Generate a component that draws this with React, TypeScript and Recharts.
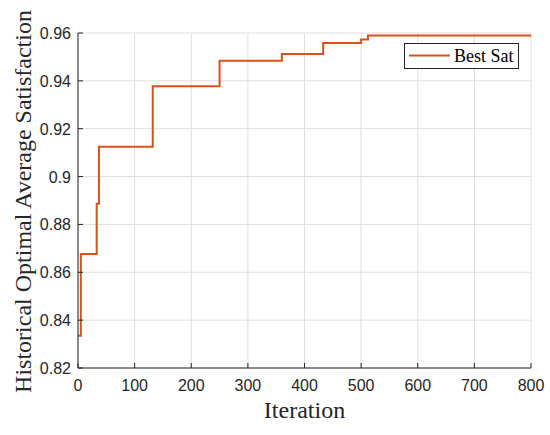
import React from "react";
import { LineChart, Line, XAxis, YAxis, CartesianGrid, Legend } from "recharts";

// iteration at which the best value changed, and the new best value
const iterations = [0, 5, 33, 37, 132, 250, 360, 433, 500, 512, 800];
const bestSat = [0.8335, 0.8676, 0.8886, 0.9125, 0.9377, 0.9484, 0.9512, 0.9558, 0.9573, 0.959, 0.959];

const xTicks = [0, 100, 200, 300, 400, 500, 600, 700, 800];
const yTicks = [0.82, 0.84, 0.86, 0.88, 0.9, 0.92, 0.94, 0.96];

const data = iterations.map((it, i) => ({ iter: it, best: bestSat[i] }));

const AXIS = "#262626";
const LINE = "#D95319";
const SANS = "'Liberation Sans', Arial, sans-serif";
const SERIF = "'Liberation Serif', 'Times New Roman', serif";

const BottomTick = (props: any) => {
  const { x, y, payload } = props;
  return (
    <g>
      <line x1={x} y1={y} x2={x} y2={y - 5} stroke={AXIS} strokeWidth={1} />
      <text x={x} y={y + 23} textAnchor="middle" fontSize={16} fontFamily={SANS} fill={AXIS}>
        {payload.value}
      </text>
    </g>
  );
};

const TopTick = (props: any) => {
  const { x, y } = props;
  return <line x1={x} y1={y} x2={x} y2={y + 5} stroke={AXIS} strokeWidth={1} />;
};

const LeftTick = (props: any) => {
  const { x, y, payload } = props;
  return (
    <g>
      <line x1={x} y1={y} x2={x + 5} y2={y} stroke={AXIS} strokeWidth={1} />
      <text x={x - 7} y={y + 6} textAnchor="end" fontSize={16} fontFamily={SANS} fill={AXIS}>
        {String(Number(payload.value.toFixed(2)))}
      </text>
    </g>
  );
};

const RightTick = (props: any) => {
  const { x, y } = props;
  return <line x1={x} y1={y} x2={x - 5} y2={y} stroke={AXIS} strokeWidth={1} />;
};

const XLabel = (props: any) => {
  const { viewBox } = props;
  return (
    <text x={viewBox.x + viewBox.width / 2} y={418} textAnchor="middle" fontSize={24} fontFamily={SERIF} fill={AXIS}>
      Iteration
    </text>
  );
};

const YLabel = (props: any) => {
  const { viewBox } = props;
  const cy = viewBox.y + viewBox.height / 2 + 1;
  return (
    <text
      x={31}
      y={cy}
      transform={`rotate(-90, 31, ${cy})`}
      textAnchor="middle"
      fontSize={24}
      fontFamily={SERIF}
      fill={AXIS}
    >
      Historical Optimal Average Satisfaction
    </text>
  );
};

const LegendBox = () => (
  <svg width={116} height={27}>
    <rect x={0.5} y={0.5} width={114} height={25} fill="#fff" stroke={AXIS} strokeWidth={1} />
    <line x1={5} y1={12.5} x2={46} y2={12.5} stroke={LINE} strokeWidth={2} />
    <text x={50} y={19} fontSize={18} fontFamily={SERIF} fill="#000">
      Best Sat
    </text>
  </svg>
);

export default function App() {
  return (
    <div style={{ position: "absolute", left: 0, top: 0, background: "#fff" }}>
      <LineChart width={550} height={435} data={data} margin={{ top: 33, right: 19, left: 0, bottom: 0 }}>
        <CartesianGrid stroke="#dfdfdf" strokeWidth={1} />
        <XAxis
          dataKey="iter"
          type="number"
          domain={[0, 800]}
          ticks={xTicks}
          height={67}
          tickSize={0}
          tickMargin={0}
          tickLine={false}
          axisLine={{ stroke: AXIS, strokeWidth: 1 }}
          tick={<BottomTick />}
          label={{ content: <XLabel /> }}
        />
        <XAxis
          xAxisId="top"
          orientation="top"
          dataKey="iter"
          type="number"
          domain={[0, 800]}
          ticks={xTicks}
          height={0}
          tickSize={0}
          tickMargin={0}
          tickLine={false}
          axisLine={{ stroke: AXIS, strokeWidth: 1 }}
          tick={<TopTick />}
        />
        <YAxis
          type="number"
          domain={[0.82, 0.96]}
          ticks={yTicks}
          width={78}
          tickSize={0}
          tickMargin={0}
          tickLine={false}
          axisLine={{ stroke: AXIS, strokeWidth: 1 }}
          tick={<LeftTick />}
          label={{ content: <YLabel /> }}
        />
        <YAxis
          yAxisId="right"
          orientation="right"
          type="number"
          domain={[0.82, 0.96]}
          ticks={yTicks}
          width={0}
          tickSize={0}
          tickMargin={0}
          tickLine={false}
          axisLine={{ stroke: AXIS, strokeWidth: 1 }}
          tick={<RightTick />}
        />
        <Legend
          layout="horizontal"
          verticalAlign="middle"
          align="center"
          content={<LegendBox />}
          wrapperStyle={{ position: "absolute", left: 404, top: 43, width: 116, height: 27 }}
        />
        <Line
          type="stepAfter"
          dataKey="best"
          stroke={LINE}
          strokeWidth={2}
          dot={false}
          isAnimationActive={false}
        />
      </LineChart>
    </div>
  );
}
